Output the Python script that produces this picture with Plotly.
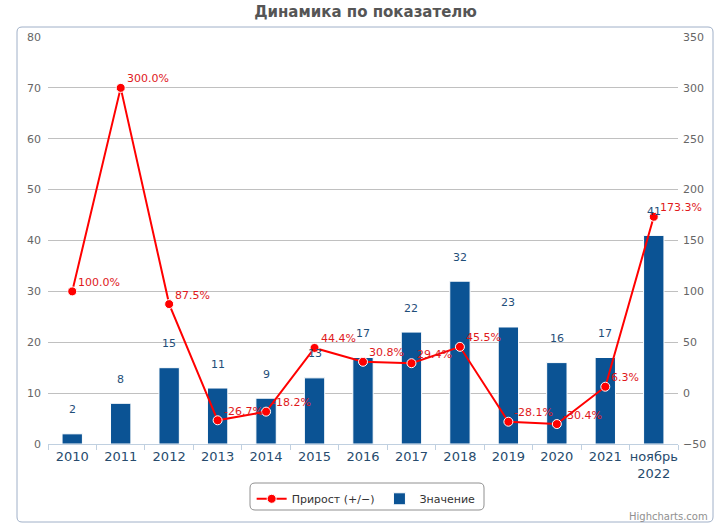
import plotly.graph_objects as go

categories = ["2010", "2011", "2012", "2013", "2014", "2015", "2016", "2017",
              "2018", "2019", "2020", "2021", "ноябрь<br>2022"]
values = [2, 8, 15, 11, 9, 13, 17, 22, 32, 23, 16, 17, 41]
growth = [100.0, 300.0, 87.5, -26.7, -18.2, 44.4, 30.8, 29.4, 45.5, -28.1, -30.4, 6.3, 173.3]

FONT = "DejaVu Sans"
BAR_COLOR = "#0b5394"
LINE_COLOR = "#ff0000"

fig = go.Figure()
fig.add_trace(go.Bar(
    x=categories, y=values, name="Значение", yaxis="y",
    marker=dict(color=BAR_COLOR, line=dict(color="#ffffff", width=1)),
    legendrank=2,
))
fig.add_trace(go.Scatter(
    x=categories, y=growth, name="Прирост (+/−)", yaxis="y2",
    mode="lines+markers",
    line=dict(color=LINE_COLOR, width=2),
    marker=dict(color=LINE_COLOR, size=9, line=dict(color="#ffffff", width=1)),
    legendrank=1,
))

annotations = []
for i, v in enumerate(values):
    annotations.append(dict(x=i, y=v, xref="x", yref="y", text=str(v), showarrow=False,
                            yshift=24, font=dict(family=FONT, size=11, color="#1f4e79")))
for i, g in enumerate(growth):
    annotations.append(dict(x=i, y=g, xref="x", yref="y2", text=f"{g:.1f}%", showarrow=False,
                            xanchor="left", xshift=4, yshift=9,
                            font=dict(family=FONT, size=11, color="#e0191c")))
annotations.append(dict(x=1.0508, y=-0.179, xref="paper", yref="paper", text="Highcharts.com",
                        showarrow=False, xanchor="right", yanchor="middle",
                        font=dict(family=FONT, size=10, color="#909090")))


def rounded_rect(x0, x1, y0, y1, rx, ry):
    return (f"M {x0 + rx},{y1} L {x1 - rx},{y1} Q {x1},{y1} {x1},{y1 - ry} "
            f"L {x1},{y0 + ry} Q {x1},{y0} {x1 - rx},{y0} "
            f"L {x0 + rx},{y0} Q {x0},{y0} {x0},{y0 + ry} "
            f"L {x0},{y1 - ry} Q {x0},{y1} {x0 + rx},{y1} Z")


PW, PH = 630, 407
border_path = rounded_rect(-31 / PW, 665 / PW, -78 / PH, 1 + 10 / PH, 5 / PW, 5 / PH)
legend_path = rounded_rect((250 - 48) / PW, (484 - 48) / PW, -(510 - 444) / PH, -(483 - 444) / PH,
                           5 / PW, 5 / PH)

fig.update_layout(
    width=721, height=532,
    margin=dict(l=48, r=43, t=37, b=88),
    paper_bgcolor="#ffffff", plot_bgcolor="#ffffff",
    font=dict(family=FONT, size=11, color="#666666"),
    title=dict(text="<b>Динамика по показателю</b>", x=0.507, xanchor="center",
               y=1 - 12 / 532, yanchor="middle", yref="container",
               font=dict(family=FONT, size=15, color="#555555")),
    bargap=0.58,
    showlegend=True,
    legend=dict(orientation="h", x=0.505, xanchor="center", y=-0.099, yanchor="top",
                borderwidth=0, bgcolor="rgba(0,0,0,0)", itemwidth=30,
                font=dict(family=FONT, size=11, color="#333333")),
    xaxis=dict(type="category", range=[-0.5, len(categories) - 0.5],
               showline=True, linecolor="#c0d0e0", linewidth=1,
               ticks="outside", tickson="boundaries", tickcolor="#c0d0e0", ticklen=5,
               tickangle=0,
               tickfont=dict(family=FONT, size=13, color="#274b6d"),
               showgrid=False, fixedrange=True),
    yaxis=dict(range=[0, 80], dtick=10, showgrid=True, gridcolor="#c0c0c0", gridwidth=1,
               zeroline=False, showline=False,
               tickfont=dict(family=FONT, size=11, color="#666666"), ticks="",
               ticklabelstandoff=6),
    yaxis2=dict(range=[-50, 350], dtick=50, overlaying="y", side="right",
                showgrid=False, zeroline=False, showline=False,
                tickfont=dict(family=FONT, size=11, color="#666666"), ticks="",
                ticklabelstandoff=4),
    annotations=annotations,
    shapes=[
        dict(type="path", xref="paper", yref="paper", path=border_path,
             line=dict(color="#a0b0c8", width=1), layer="below"),
        dict(type="path", xref="paper", yref="paper", path=legend_path,
             line=dict(color="#909090", width=1), layer="below"),
    ],
)

fig.write_html("out.html", config={"displayModeBar": False},
               post_script="document.body.style.margin='0';")
